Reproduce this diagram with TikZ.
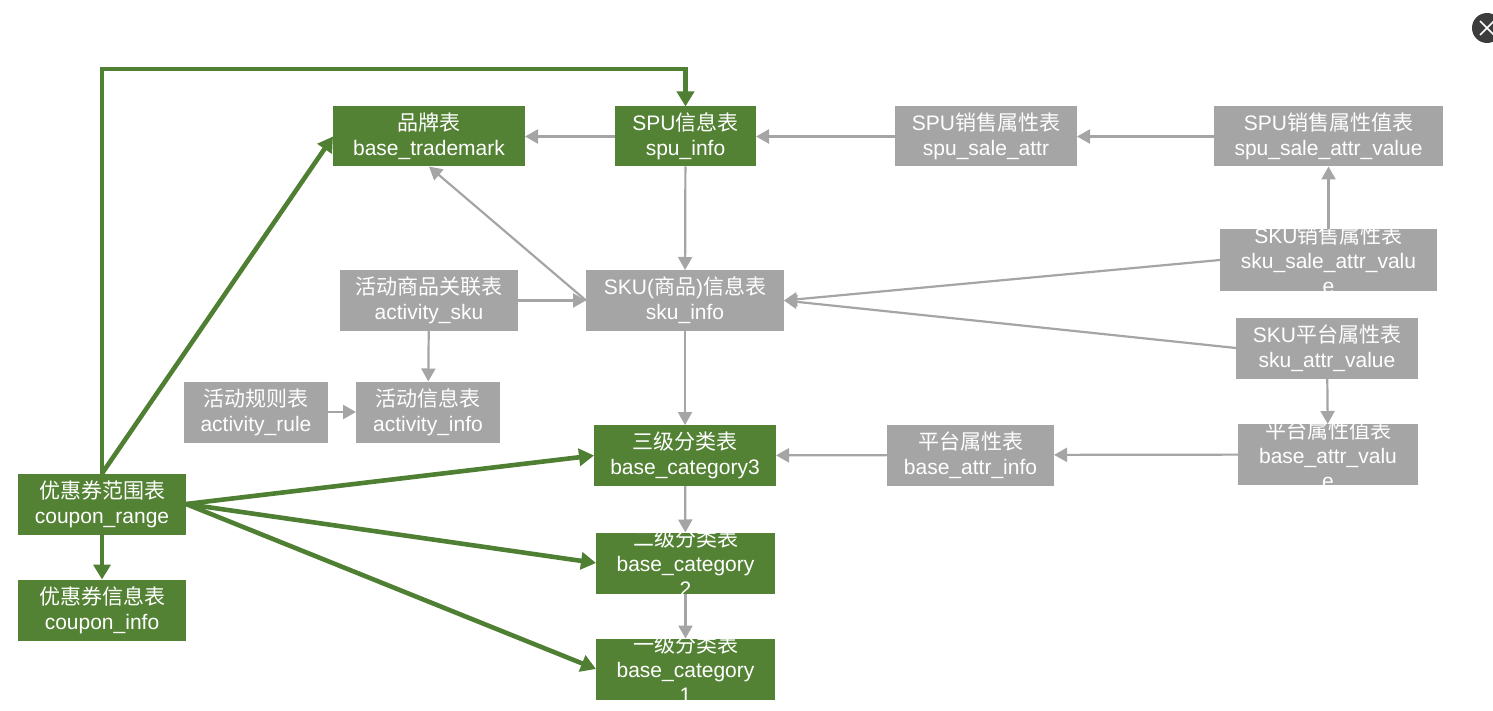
\documentclass[tikz,border=0pt]{standalone}
\usepackage{fontspec}
\setmainfont{Liberation Sans}
\newfontfamily\cjkf{Noto Sans CJK SC}
\usetikzlibrary{arrows.meta}
\definecolor{gbox}{HTML}{548235}
\definecolor{gline}{HTML}{4F7F33}
\definecolor{grey}{HTML}{A5A5A5}
\definecolor{dark}{HTML}{3C3C3C}
\newcommand{\zh}[1]{{\cjkf #1}}
\newcommand{\boxfont}{\fontsize{21}{25}\selectfont\setlength{\lineskiplimit}{-100pt}\relax}
\tikzset{
  x=1pt,y=-1pt,
  box/.style={inner sep=0pt,outer sep=0pt,text=white,align=center,font=\boxfont},
  greenbox/.style={box,fill=gbox},
  greybox/.style={box,fill=grey},
  boxsize/.style 2 args={minimum width=#1pt,minimum height=#2pt},
  cliptext/.style={path picture={\node[box] at (path picture bounding box.center) {#1};}},
  greyarrow/.style={draw=grey,line width=2.2pt,-{Triangle[length=13pt,width=14pt]}},
  greenarrow/.style={draw=gline,line width=4.6pt,-{Triangle[length=15pt,width=17pt]}},
}
\begin{document}
\begin{tikzpicture}
\useasboundingbox (0,0) rectangle (1493,711);
\clip (0,0) rectangle (1493,711);
% green nodes
\node[greenbox,boxsize={192}{60}] (tm) at (429,136.5) {\zh{品牌表}\\base\_trademark};
\node[greenbox,boxsize={141}{60}] (spu) at (685.5,136.5) {SPU\zh{信息表}\\spu\_info};
\node[greenbox,boxsize={182}{61}] (c3) at (685,455.5) {\zh{三级分类表}\\base\_category3};
\node[greenbox,boxsize={179}{61},cliptext={\zh{二级分类表}\\base\_category\\2}] (c2) at (685.5,563) {};
\node[greenbox,boxsize={179}{61},cliptext={\zh{一级分类表}\\base\_category\\1}] (c1) at (685.5,669) {};
\node[greenbox,boxsize={168}{61}] (cr) at (102,504) {\zh{优惠券范围表}\\coupon\_range};
\node[greenbox,boxsize={168}{61}] (ci) at (102,610) {\zh{优惠券信息表}\\coupon\_info};
% grey nodes
\node[greybox,boxsize={182}{60}] (ssa) at (986,136.5) {SPU\zh{销售属性表}\\spu\_sale\_attr};
\node[greybox,boxsize={229}{60}] (ssav) at (1328.5,136.5) {SPU\zh{销售属性值表}\\spu\_sale\_attr\_value};
\node[greybox,boxsize={217}{61},cliptext={SKU\zh{销售属性表}\\sku\_sale\_attr\_valu\\e}] (skusav) at (1328.5,260) {};
\node[greybox,boxsize={182}{61}] (skuav) at (1327,348) {SKU\zh{平台属性表}\\sku\_attr\_value};
\node[greybox,boxsize={180}{61},cliptext={\zh{平台属性值表}\\base\_attr\_valu\\e}] (bav) at (1328,454.5) {};
\node[greybox,boxsize={167}{61}] (bai) at (970.5,455) {\zh{平台属性表}\\base\_attr\_info};
\node[greybox,boxsize={198}{61}] (sku) at (685,300.5) {SKU(\zh{商品})\zh{信息表}\\sku\_info};
\node[greybox,boxsize={178}{61}] (as) at (429,300.5) {\zh{活动商品关联表}\\activity\_sku};
\node[greybox,boxsize={144}{61}] (ai) at (428,412) {\zh{活动信息表}\\activity\_info};
\node[greybox,boxsize={144}{61}] (ar) at (256,412) {\zh{活动规则表}\\activity\_rule};
% grey connectors
\draw[greyarrow] (spu) -- (tm);
\draw[greyarrow] (ssa) -- (spu);
\draw[greyarrow] (ssav) -- (ssa);
\draw[greyarrow] (skusav) -- (ssav);
\draw[greyarrow] (spu) -- (sku);
\draw[greyarrow] (sku.west) -- (tm.south);
\draw[greyarrow] (as) -- (sku);
\draw[greyarrow] (as) -- (ai);
\draw[greyarrow] (ar) -- (ai);
\draw[greyarrow] (skusav.west) -- (sku.east);
\draw[greyarrow] (skuav.west) -- (sku.east);
\draw[greyarrow] (skuav) -- (bav);
\draw[greyarrow] (sku) -- (c3);
\draw[greyarrow] (bav) -- (bai);
\draw[greyarrow] (bai) -- (c3);
\draw[greyarrow] (c3) -- (c2);
\draw[greyarrow] (c2) -- (c1);
% green connectors
\coordinate (topc) at (102,69);
\draw[greenarrow] (cr.north) -- (topc) -| (spu.north);
\draw[greenarrow] (cr.north) -- (tm.west);
\draw[greenarrow] (cr) -- (ci);
\draw[greenarrow] (cr.east) -- (c3.west);
\draw[greenarrow] (cr.east) -- (c2.west);
\draw[greenarrow] (cr.east) -- (c1.west);
% close button
\fill[dark] (1487,28) circle (15);
\draw[white,line width=1.6pt] (1480,21) -- (1494,35) (1494,21) -- (1480,35);
\end{tikzpicture}
\end{document}
